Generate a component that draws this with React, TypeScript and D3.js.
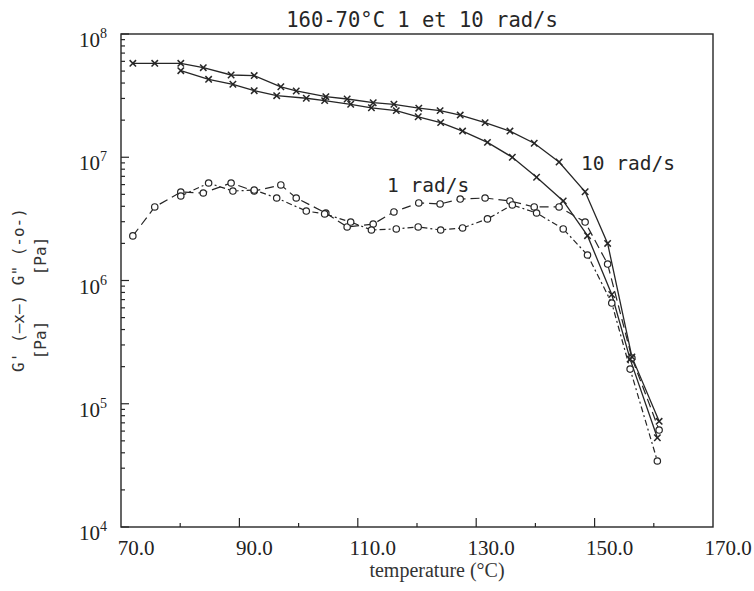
import React from "react";
import * as d3 from "d3";

// ---- data ----
const tempsHi = [72.0, 75.7, 80.1, 83.9, 88.6, 92.5, 97.0, 99.6, 104.6, 108.2, 112.6, 116.1, 120.3, 123.9, 127.3, 131.5, 135.7, 139.8, 144.0, 148.4, 152.2, 156.3, 160.9];
const gPrime10 = [5.78e7, 5.78e7, 5.78e7, 5.33e7, 4.65e7, 4.6e7, 3.73e7, 3.45e7, 3.1e7, 2.97e7, 2.77e7, 2.69e7, 2.5e7, 2.39e7, 2.2e7, 1.91e7, 1.63e7, 1.3e7, 9.15e6, 5.25e6, 2.0e6, 2.4e5, 7.2e4];
const gDouble10 = [2.3e6, 3.95e6, 5.22e6, 5.13e6, 6.18e6, 5.32e6, 5.96e6, 4.67e6, 3.53e6, 2.72e6, 2.87e6, 3.6e6, 4.26e6, 4.18e6, 4.58e6, 4.67e6, 4.42e6, 3.95e6, 3.95e6, 2.98e6, 1.36e6, 2.35e5, 6.12e4];

const tempsLo = [80.1, 84.8, 88.9, 92.5, 96.3, 101.3, 104.4, 108.8, 112.3, 116.5, 120.2, 124.0, 127.7, 131.9, 136.1, 140.2, 144.7, 148.8, 152.9, 156.0, 160.6];
const gPrime1 = [5.04e7, 4.29e7, 3.91e7, 3.47e7, 3.16e7, 3.01e7, 2.88e7, 2.69e7, 2.52e7, 2.39e7, 2.13e7, 1.91e7, 1.63e7, 1.32e7, 1.0e7, 6.88e6, 4.42e6, 2.31e6, 7.7e5, 2.3e5, 5.3e4];
const gDouble1 = [4.85e6, 6.18e6, 5.32e6, 5.42e6, 4.67e6, 3.66e6, 3.47e6, 2.98e6, 2.57e6, 2.62e6, 2.72e6, 2.57e6, 2.67e6, 3.16e6, 4.1e6, 3.53e6, 2.62e6, 1.61e6, 6.56e5, 1.91e5, 3.43e4];

const xTickLabels = [70, 90, 110, 130, 150, 170];
const xMinorTicks = [80, 100, 120, 140, 160];
const xMajorTicks = [90, 110, 130, 150];
const yDecades = [4, 5, 6, 7, 8];

const titleText = "160-70°C 1 et 10 rad/s";
const xTitle = "temperature (°C)";
const yTitle = "G' (—x—) G\" (-o-)";
const yUnit = "[Pa]";
const label10 = "10 rad/s";
const label1 = "1 rad/s";

// ---- layout ----
const W = 754, H = 591;
const L = 121, R = 713, T = 34, B = 527;
const ink = "#262626";
const plotFont = "'DejaVu Sans Mono', monospace";
const serif = "'Liberation Serif', 'Times New Roman', serif";

export default function App() {
  const x = d3.scaleLinear().domain([70, 170]).range([L, R]);
  const y = d3.scaleLog().domain([1e4, 1e8]).range([B, T]);

  const line = (ts: number[], vs: number[]) =>
    d3.line<number>().x((_, i) => x(ts[i])).y((v) => y(v))(vs) || "";

  const xMark = (cx: number, cy: number, k: string) => (
    <g key={k} stroke={ink} strokeWidth={1.5}>
      <line x1={cx - 3.2} y1={cy - 3.2} x2={cx + 3.2} y2={cy + 3.2} />
      <line x1={cx - 3.2} y1={cy + 3.2} x2={cx + 3.2} y2={cy - 3.2} />
    </g>
  );
  const oMark = (cx: number, cy: number, k: string) => (
    <circle key={k} cx={cx} cy={cy} r={3.2} fill="white" stroke={ink} strokeWidth={1.2} />
  );

  // minor log ticks
  const yMinor: number[] = [];
  for (let d = 4; d < 8; d++) for (let m = 2; m <= 9; m++) yMinor.push(m * Math.pow(10, d));

  return (
    <svg width={W} height={H} style={{ position: "absolute", left: 0, top: 0, background: "white" }}>
      <rect x={0} y={0} width={W} height={H} fill="white" />
      {/* title */}
      <text x={422} y={27} textAnchor="middle" fontFamily={plotFont} fontSize={20.5} fill={ink}>{titleText}</text>

      {/* frame */}
      <rect x={L} y={T} width={R - L} height={B - T} fill="none" stroke={ink} strokeWidth={1.4} />

      {/* y ticks */}
      {yMinor.map((v, i) => (
        <line key={"ym" + i} x1={L} x2={L + 4} y1={y(v)} y2={y(v)} stroke={ink} strokeWidth={1.2} />
      ))}
      {yDecades.map((d) => (
        <line key={"yM" + d} x1={L} x2={L + 8} y1={y(Math.pow(10, d))} y2={y(Math.pow(10, d))} stroke={ink} strokeWidth={1.2} />
      ))}
      {yDecades.map((d) => (
        <text key={"yl" + d} x={107} y={y(Math.pow(10, d)) + 13} textAnchor="end" fontFamily={serif} fontSize={21} fill="#222">
          10<tspan dy={-9} fontSize={14}>{d}</tspan>
        </text>
      ))}

      {/* x ticks */}
      {xMajorTicks.map((v) => (
        <line key={"xM" + v} x1={x(v)} x2={x(v)} y1={B} y2={B - 9} stroke={ink} strokeWidth={1.2} />
      ))}
      {xMinorTicks.map((v) => (
        <line key={"xm" + v} x1={x(v)} x2={x(v)} y1={B} y2={B - 4} stroke={ink} strokeWidth={1.2} />
      ))}
      {xTickLabels.map((v) => (
        <text key={"xl" + v} x={x(v) + 15} y={555} textAnchor="middle" fontFamily={serif} fontSize={21} fill="#222">
          {v.toFixed(1)}
        </text>
      ))}
      <text x={437} y={577} textAnchor="middle" fontFamily={serif} fontSize={20} fill="#333">{xTitle}</text>

      {/* y title */}
      <text transform="translate(24,290) rotate(-90)" textAnchor="middle" fontFamily={plotFont} fontSize={16} fill="#333">{yTitle}</text>
      <text transform="translate(46,340) rotate(-90)" textAnchor="middle" fontFamily={plotFont} fontSize={16} fill="#333">{yUnit}</text>
      <text transform="translate(46,256) rotate(-90)" textAnchor="middle" fontFamily={plotFont} fontSize={16} fill="#333">{yUnit}</text>

      {/* curves */}
      <path d={line(tempsHi, gPrime10)} fill="none" stroke={ink} strokeWidth={1.3} />
      <path d={line(tempsLo, gPrime1)} fill="none" stroke={ink} strokeWidth={1.3} />
      <path d={line(tempsHi, gDouble10)} fill="none" stroke={ink} strokeWidth={1.2} strokeDasharray="9,5" />
      <path d={line(tempsLo, gDouble1)} fill="none" stroke={ink} strokeWidth={1.2} strokeDasharray="6,3,2,3" />

      {gDouble10.map((v, i) => oMark(x(tempsHi[i]), y(v), "o10" + i))}
      {gDouble1.map((v, i) => oMark(x(tempsLo[i]), y(v), "o1" + i))}
      {gPrime10.map((v, i) => xMark(x(tempsHi[i]), y(v), "x10" + i))}
      {gPrime1.map((v, i) => xMark(x(tempsLo[i]), y(v), "x1" + i))}

      {/* annotations */}
      <text x={581} y={170} fontFamily={plotFont} fontSize={19.5} fill={ink}>{label10}</text>
      <text x={387} y={192} fontFamily={plotFont} fontSize={19.5} fill={ink}>{label1}</text>
    </svg>
  );
}
